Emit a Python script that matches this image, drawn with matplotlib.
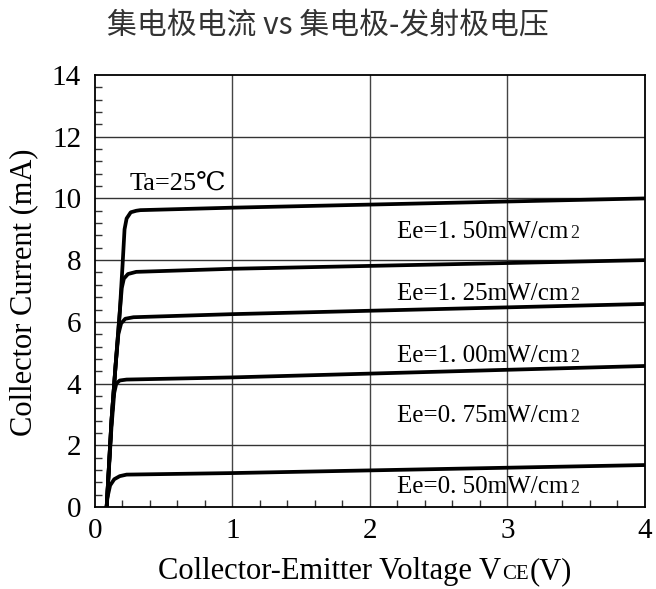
import matplotlib
matplotlib.use('Agg')
import matplotlib.pyplot as plt
from matplotlib.ticker import MultipleLocator

# values (Vce in V, Ic in mA)
vce_150 = [0.085, 0.12, 0.15, 0.18, 0.20, 0.215, 0.23, 0.26, 0.30, 0.33, 1.0, 2.0, 3.0, 4.0]
ic_150 = [0.0, 2.8, 4.6, 6.3, 7.8, 9.0, 9.35, 9.55, 9.6, 9.62, 9.7, 9.8, 9.9, 10.0]

vce_125 = [0.085, 0.12, 0.15, 0.18, 0.195, 0.21, 0.24, 0.30, 1.0, 4.0]
ic_125 = [0.0, 2.8, 4.6, 6.3, 7.1, 7.4, 7.55, 7.62, 7.72, 8.0]

vce_100 = [0.085, 0.12, 0.15, 0.17, 0.19, 0.22, 0.28, 1.0, 4.0]
ic_100 = [0.0, 2.8, 4.6, 5.6, 5.95, 6.1, 6.15, 6.25, 6.58]

vce_075 = [0.085, 0.12, 0.14, 0.155, 0.18, 0.23, 1.0, 4.0]
ic_075 = [0.0, 2.6, 3.7, 4.0, 4.1, 4.13, 4.2, 4.57]

vce_050 = [0.085, 0.09, 0.11, 0.14, 0.18, 0.23, 1.0, 4.0]
ic_050 = [0.0, 0.3, 0.7, 0.9, 1.0, 1.05, 1.1, 1.36]

ee_labels = ['Ee=1. 50mW/cm', 'Ee=1. 25mW/cm', 'Ee=1. 00mW/cm', 'Ee=0. 75mW/cm', 'Ee=0. 50mW/cm']
label_y = [8.72, 6.71, 4.71, 2.76, 0.45]

x_ticks = [0, 1, 2, 3, 4]
y_ticks = [0, 2, 4, 6, 8, 10, 12, 14]

serif = ['Liberation Serif', 'DejaVu Serif']


def text_after(t, s, size, **kw):
    """Put a smaller piece of text right after text t, on the same baseline."""
    fig.canvas.draw()
    bb = t.get_window_extent()
    x, y = t.get_position()
    xn, _ = t.get_transform().inverted().transform((bb.x1 + 1, 0))
    owner = t.axes if t.axes else fig
    return owner.text(xn, y, s, fontsize=size, family=serif, va='baseline', ha='left',
                      transform=t.get_transform(), **kw)


fig = plt.figure(figsize=(6.56, 5.89), dpi=100)
ax = fig.add_axes([0.1448, 0.1392, 0.8384, 0.7335])

ax.set_xlim(0, 4)
ax.set_ylim(0, 14)

# grid
for xv in x_ticks[1:-1]:
    ax.axvline(xv, color='#444444', lw=1.0, zorder=1)
for yv in y_ticks[1:-1]:
    ax.axhline(yv, color='#333333', lw=1.0, zorder=1)

curves = [(vce_150, ic_150), (vce_125, ic_125), (vce_100, ic_100),
          (vce_075, ic_075), (vce_050, ic_050)]
for xs, ys in curves:
    ax.plot(xs, ys, color='black', lw=2.7, solid_joinstyle='round',
            solid_capstyle='round', zorder=3)

for txt, yv in zip(ee_labels, label_y):
    t = ax.text(2.2, yv, txt, fontsize=18, family=serif, va='baseline', ha='left', zorder=4)
    text_after(t, '2', 13, color='#222222', zorder=4)

ax.text(0.255, 10.27, 'Ta=25℃', fontsize=19,
        family=['Liberation Serif', 'DejaVu Serif', 'Noto Sans CJK SC'],
        va='baseline', ha='left')

ax.set_xticks(x_ticks)
ax.set_yticks(y_ticks)
ax.xaxis.set_minor_locator(MultipleLocator(0.2))
ax.yaxis.set_minor_locator(MultipleLocator(0.4))
ax.tick_params(which='major', length=0, pad=8)
ax.tick_params(which='minor', direction='in', length=5, width=1.0, color='#333333')
ax.tick_params(axis='y', which='major', pad=10)
for lab in ax.get_xticklabels() + ax.get_yticklabels():
    lab.set_family(serif)
    lab.set_fontsize(21)

for sp in ax.spines.values():
    sp.set_linewidth(1.3)
    sp.set_color('black')

fig.text(0.036, 0.504, 'Collector Current (mA)', family=serif, fontsize=22,
         rotation=90, ha='center', va='center')

# x label with the small "CE" of Vce
t1 = fig.text(0.241, 0.017, 'Collector-Emitter Voltage V', family=serif, fontsize=22,
              ha='left', va='baseline')
t2 = text_after(t1, 'CE', 15)
t3 = text_after(t2, '(V)', 22)

fig.text(0.5, 0.957, '集电极电流 vs 集电极-发射极电压', family=['Noto Sans CJK SC', 'DejaVu Sans'],
         fontsize=21.5, color='#333333', ha='center', va='center')

fig.savefig('out.png', dpi=100)
